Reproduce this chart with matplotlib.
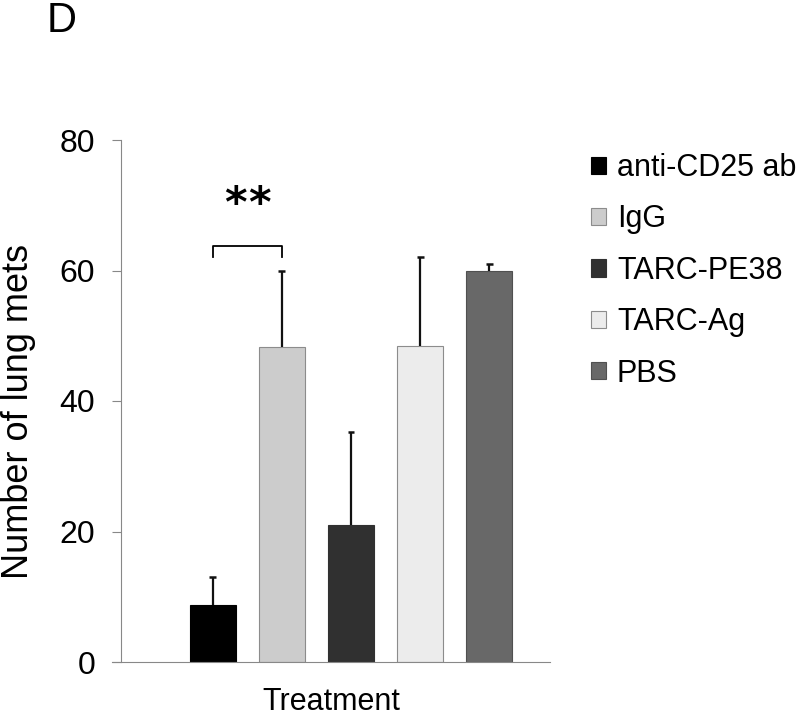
import numpy as np
import matplotlib
matplotlib.use("Agg")
import matplotlib.pyplot as plt

# values
groups = ["anti-CD25 ab", "IgG", "TARC-PE38", "TARC-Ag", "PBS"]
means = [8.7, 48.2, 21.0, 48.5, 60.0]
err_top = [13.0, 60.0, 35.2, 62.1, 61.0]
colors = ["#000000", "#cccccc", "#303030", "#ececec", "#686868"]
edges = ["#000000", "#8c8c8c", "#303030", "#8c8c8c", "#505050"]
yticks = [0, 20, 40, 60, 80]

plt.rcParams['font.family'] = ['Liberation Sans', 'DejaVu Sans']

fig = plt.figure(figsize=(8, 7.2), dpi=100)
ax = fig.add_axes([112 / 800, 58 / 720, (550 - 112) / 800, (662 - 140) / 720])

x = np.arange(len(groups))
bars = ax.bar(x, means, width=0.667, color=colors, edgecolor=edges, linewidth=0.8,
              label=groups, zorder=2)
# upper error bars only
ax.vlines(x, means, err_top, color='#111111', lw=1.6, zorder=3)
ax.hlines(err_top, x - 0.05, x + 0.05, color='#111111', lw=1.8, zorder=3)

ax.set_xlim(-1.46, 4.88)
ax.set_ylim(0, 80)
ax.set_yticks(yticks)
ax.set_xticks([])

for s in ["top", "right"]:
    ax.spines[s].set_visible(False)
ax.spines["left"].set_position(("data", -1.33))
ax.spines["left"].set_color("#888888")
ax.spines["bottom"].set_color("#888888")
ax.tick_params(axis='y', length=6.5, color="#888888", labelsize=23, pad=12)

ax.set_ylabel("Number of lung mets", fontsize=26)
ax.yaxis.set_label_coords(-0.174, 0.479)
ax.set_xlabel("Treatment", fontsize=22, labelpad=18)

# significance bracket between first two bars
by, drop = 63.7, 1.6
ax.plot([x[0], x[0], x[1], x[1]], [by - drop, by, by, by - drop], color='black', lw=1.3,
        clip_on=False)
mid = (x[0] + x[1]) / 2
for dx in (-0.175, 0.175):
    ax.text(mid + dx, 70.0, "*", ha='center', va='center', fontsize=31,
            fontweight='bold', family='DejaVu Sans')

ax.legend(bars, groups, loc='upper left', bbox_to_anchor=(591 / 800, 1 - 153 / 720),
          bbox_transform=fig.transFigure, frameon=False, fontsize=22,
          handlelength=0.49, handleheight=0.49, handletextpad=0.36, labelspacing=0.70,
          borderaxespad=0, borderpad=0)

fig.text(47 / 800, 1 - 32 / 720, "D", fontsize=30, va='baseline', ha='left')

fig.savefig("out.png", dpi=100)
